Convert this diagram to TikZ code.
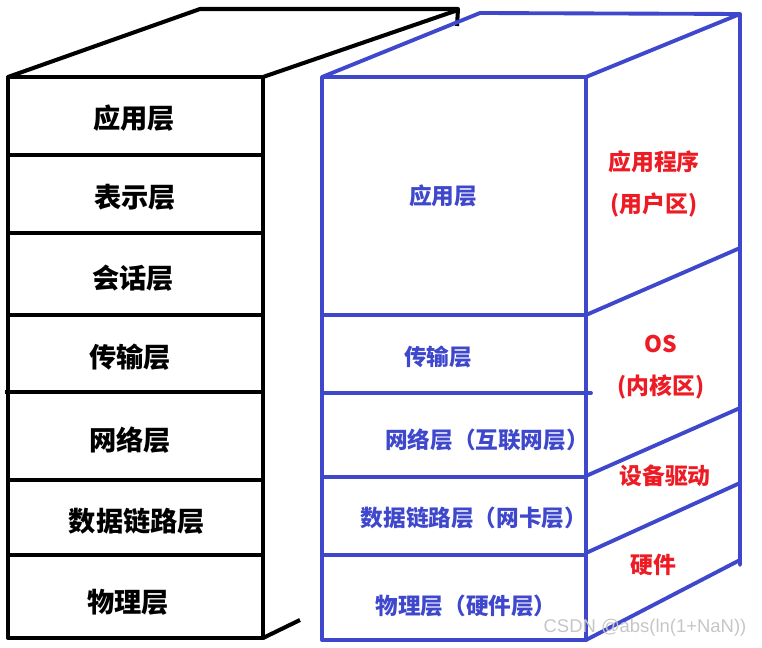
\documentclass[tikz,border=0pt]{standalone}
\usepackage{fontspec}
\newfontfamily\cjk{Noto Sans CJK SC}
\newfontfamily\markfont{Liberation Sans}
\usepackage{xcolor}
\usetikzlibrary{positioning,calc}
\definecolor{paintblue}{HTML}{3F48CC}
\definecolor{paintred}{HTML}{ED1C24}

\begin{document}
\begin{tikzpicture}[x=0.02cm, y=-0.02cm,
    osiline/.style={draw=black, line width=2.3pt, line join=round},
    tcpline/.style={draw=paintblue, line width=2.2pt, line join=round, line cap=round},
    osilabel/.style={font=\cjk\bfseries\fontsize{15.5}{18}\selectfont, text=black},
    tcplabel/.style={font=\cjk\bfseries\fontsize{12.9}{15}\selectfont, text=paintblue},
    oslabel/.style={font=\cjk\bfseries\fontsize{13}{16}\selectfont, text=paintred, align=center}]
    \useasboundingbox (0,0) rectangle (762,648);

    % OSI model (black box)
    \draw [osiline] (8,77) rectangle (263,638);
    \draw [osiline] (8,155) -- (263,155); \draw [osiline] (8,233) -- (263,233);
    \draw [osiline] (8,315) -- (263,315); \draw [osiline] (5,392) -- (263,392);
    \draw [osiline] (8,480) -- (263,480); \draw [osiline] (8,555) -- (263,555);
    \draw [osiline] (8,77) -- (200,9) -- (458,9) -- (457,26); % top face
    \draw [osiline] (263,77) -- (458,10);
    \draw [osiline] (263,638) -- (300,620);

    \node [osilabel] (app)   at (134,118) {应用层};
    \node [osilabel] (pres)  at (135,197) {表示层};
    \node [osilabel] (sess)  at (133,278) {会话层};
    \node [osilabel] (trans) at (130,357) {传输层};
    \node [osilabel] (net)   at (130,440) {网络层};
    \node [osilabel] (link)  at (137,521) {数据链路层};
    \node [osilabel] (phys)  at (128,602) {物理层};

    % TCP/IP model (blue box)
    \draw [tcpline] (322,77) rectangle (586,640);
    \draw [tcpline] (322,315) -- (586,315); \draw [tcpline] (322,393) -- (591,393);
    \draw [tcpline] (322,477) -- (586,477); \draw [tcpline] (322,555) -- (586,555);
    \draw [tcpline] (322,77) -- (480,13) -- (740,14); % top face
    \draw [tcpline] (586,77) -- (740,14) -- (740,565);
    \draw [tcpline] (586,315) -- (740,248);
    \draw [tcpline] (586,476) -- (740,408);
    \draw [tcpline] (586,553) -- (740,483);
    \draw [tcpline] (586,640) -- (740,560);

    \node [tcplabel] (tapp)   at (443,196) {应用层};
    \node [tcplabel] (ttrans) at (438,357) {传输层};
    \node [tcplabel] (tnet)   at (487,440) {网络层（互联网层）};
    \node [tcplabel] (tlink)  at (474,518) {数据链路层（网卡层）};
    \node [tcplabel] (tphys)  at (466,606) {物理层（硬件层）};

    % system side
    \node [oslabel] (user)   at (654,184) {应用程序\\[8pt](用户区)};
    \node [oslabel] (kernel) at (661,367) {OS\\[8pt](内核区)};
    \node [oslabel] (driver) at (665,476) {设备驱动};
    \node [oslabel] (hw)     at (653,565) {硬件};

    \node [font=\markfont\fontsize{10.5}{12}\selectfont, text=gray!45] (mark) at (645,628) {CSDN @abs(ln(1+NaN))};
\end{tikzpicture}
\end{document}
